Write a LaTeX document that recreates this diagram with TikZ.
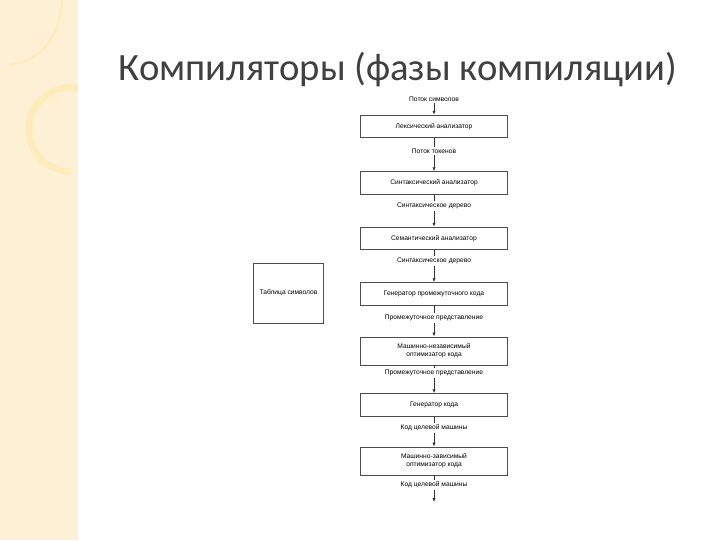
\documentclass[tikz,border=0pt]{standalone}
\usepackage{fontspec}
\setmainfont{Liberation Sans}
\newfontfamily\titlefont{Carlito}
\usetikzlibrary{arrows.meta}
\begin{document}
\begin{tikzpicture}[x=0.75pt,y=-0.75pt,
  phase/.style={draw=black!70,line width=0.6pt,minimum width=110.25pt,minimum height=17pt,align=center,font=\fontsize{5}{6}\selectfont,inner sep=1pt},
  lbl/.style={font=\fontsize{5}{6}\selectfont,inner sep=1pt},
  arr/.style={draw=black!80,line width=0.6pt,-{Latex[length=3pt,width=2.5pt]}},
  ln/.style={draw=black!80,line width=0.6pt}]
\useasboundingbox (0,0) rectangle (720,540);
\fill[white] (0,0) rectangle (720,540);
\fill[yellow!30!orange!15] (0,0) rectangle (78,540);
\draw[yellow!50!orange!25,line width=1.5pt] (62,0) .. controls (60,40) and (40,60) .. (10,65);
\draw[yellow!50!orange!25,line width=5pt] (78,88) arc (-80:-270:42);
\node[anchor=west,font=\titlefont\fontsize{29}{34}\selectfont,text=black!75] (title) at (114,70) {Компиляторы (фазы компиляции)};
\node[lbl] (l0) at (434,99) {Поток символов};
\node[phase] (b1) at (434,126.5) {Лексический анализатор};
\node[lbl] (l1) at (434,151) {Поток токенов};
\node[phase] (b2) at (434,183) {Синтаксический анализатор};
\node[lbl] (l2) at (434,206) {Синтаксическое дерево};
\node[phase] (b3) at (434,238.5) {Семантический анализатор};
\node[lbl] (l3) at (434,261) {Синтаксическое дерево};
\node[phase] (b4) at (434,294) {Генератор промежуточного кода};
\node[lbl] (l4) at (434,318) {Промежуточное представление};
\node[phase,minimum height=21pt] (b5) at (434,351) {Машинно-независимый\\оптимизатор кода};
\node[lbl] (l5) at (434,373) {Промежуточное представление};
\node[phase] (b6) at (434,405) {Генератор кода};
\node[lbl] (l6) at (434,428) {Код целевой машины};
\node[phase,minimum height=21pt] (b7) at (434,461) {Машинно-зависимый\\оптимизатор кода};
\node[lbl] (l7) at (434,485) {Код целевой машины};
\coordinate (end) at (434,502);
\node[draw=black!70,line width=0.6pt,minimum width=53pt,minimum height=45pt,font=\fontsize{5}{6}\selectfont] (tab) at (288.5,293) {Таблица символов};
\draw[arr] (l0) -- (b1);
\draw[ln] (b1) -- (l1); \draw[arr] (l1) -- (b2);
\draw[ln] (b2) -- (l2); \draw[arr] (l2) -- (b3);
\draw[ln] (b3) -- (l3); \draw[arr] (l3) -- (b4);
\draw[ln] (b4) -- (l4); \draw[arr] (l4) -- (b5);
\draw[ln] (b5) -- (l5); \draw[arr] (l5) -- (b6);
\draw[ln] (b6) -- (l6); \draw[arr] (l6) -- (b7);
\draw[ln] (b7) -- (l7); \draw[arr] (l7) -- (end);
\end{tikzpicture}
\end{document}
